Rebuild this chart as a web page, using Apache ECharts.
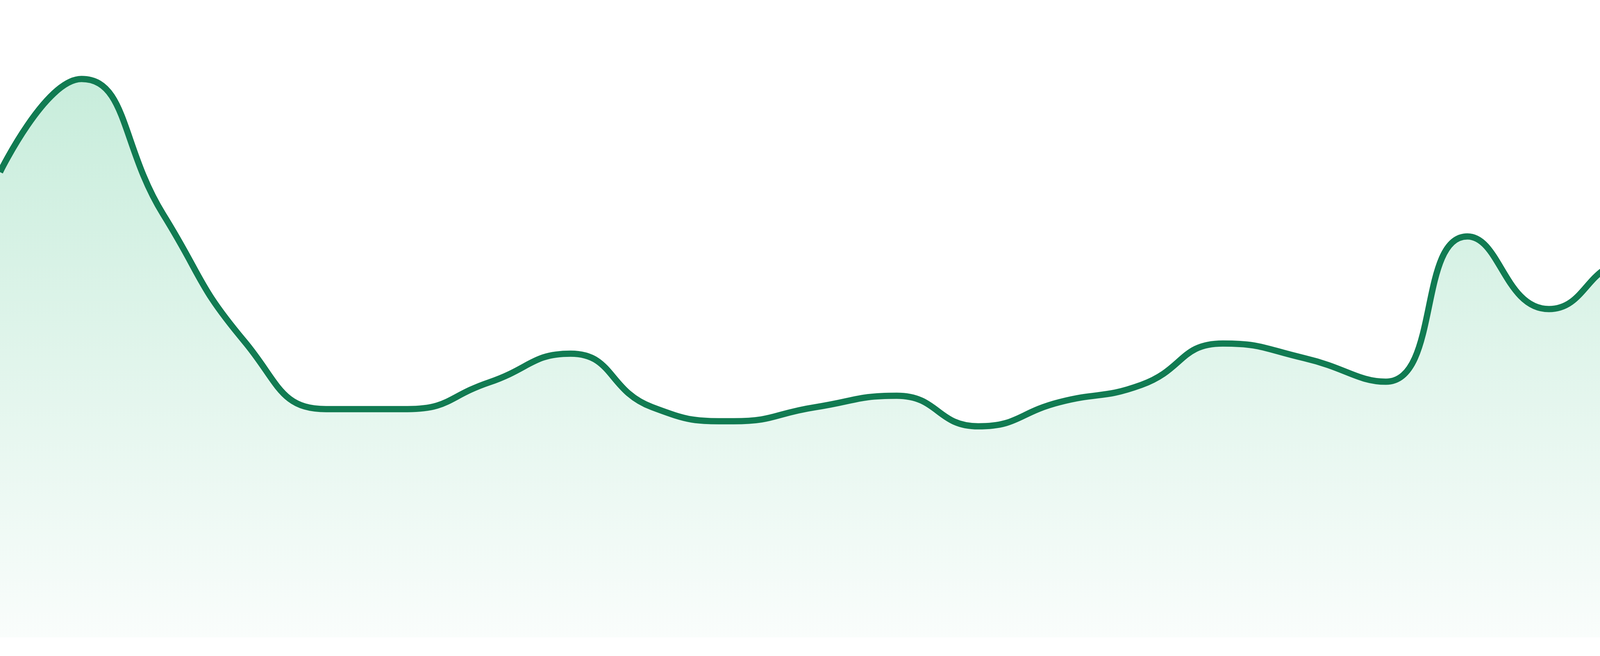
<!DOCTYPE html>
<html>
<head>
<meta charset="utf-8">
<title>Area trend</title>
<script src="https://cdn.jsdelivr.net/npm/echarts@6/dist/echarts.min.js"></script>
<style>
    html, body { margin: 0; padding: 0; background: #ffffff; }
    #main { width: 4800px; height: 1680px; }
</style>
</head>
<body>
<div id="main"></div>
<script>
// 24 evenly spaced samples, no labels shown on the chart
var categories = ['1','2','3','4','5','6','7','8','9','10','11','12',
                  '13','14','15','16','17','18','19','20','21','22','23','24'];
var trendValues = [73.0, 87.6, 66.4, 46.4, 35.8, 35.8, 40.0, 44.5, 36.1, 33.9, 36.1, 37.9,
                   33.1, 36.9, 39.6, 46.1, 43.8, 40.1, 62.9, 51.5, 58.9, 56.5, 43.1, 47.0];
var valueRange = [0, 100];

var lineColor = '#117b52';

var myChart = echarts.init(document.getElementById('main'));
var option = {
    animation: false,
    backgroundColor: '#ffffff',
    grid: {
        left: 0,
        right: 0,
        top: 0,
        bottom: 48
    },
    xAxis: {
        type: 'category',
        data: categories,
        boundaryGap: false,
        show: false
    },
    yAxis: {
        type: 'value',
        min: valueRange[0],
        max: valueRange[1],
        show: false
    },
    series: [
        {
            type: 'line',
            data: trendValues,
            smooth: true,
            symbol: 'none',
            lineStyle: {
                color: lineColor,
                width: 16
            },
            areaStyle: {
                color: new echarts.graphic.LinearGradient(0, 0, 0, 1, [
                    { offset: 0, color: '#b0e5cc' },
                    { offset: 1, color: '#f7fcfa' }
                ])
            }
        }
    ]
};
myChart.setOption(option);
</script>
</body>
</html>
